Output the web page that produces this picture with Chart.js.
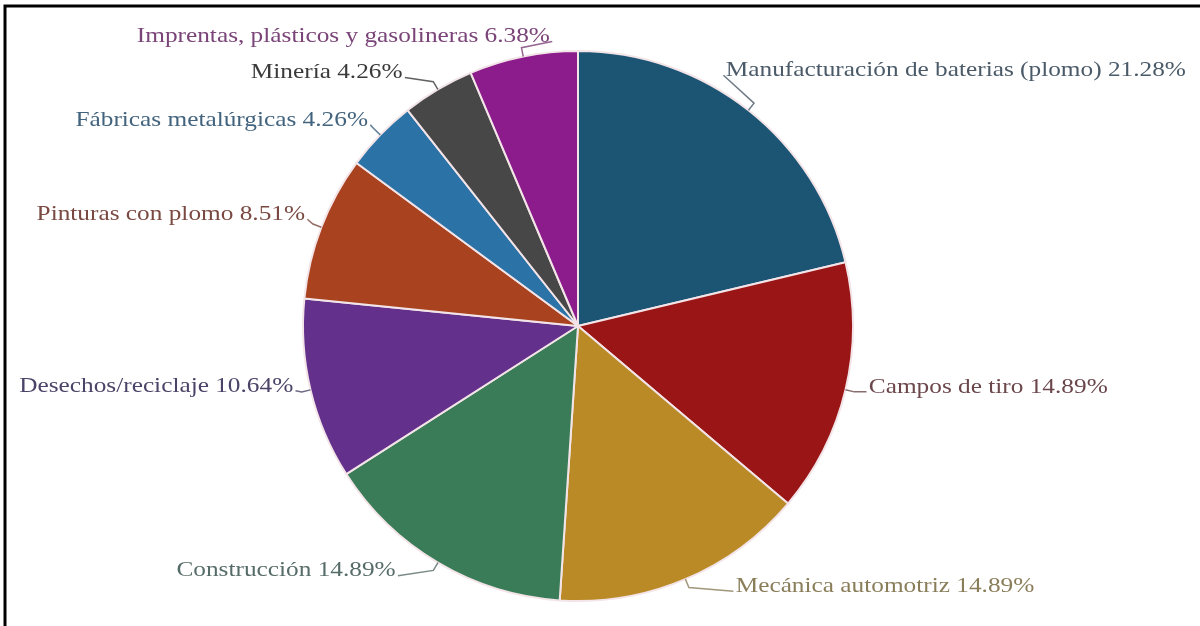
<!DOCTYPE html>
<html>
<head>
<meta charset="utf-8">
<script src="https://cdn.jsdelivr.net/npm/chart.js@4.4.0/dist/chart.umd.min.js"></script>
<style>
  html, body { margin: 0; padding: 0; background: #ffffff; }
  #wrap { position: relative; width: 1200px; height: 626px; }
</style>
</head>
<body>
<div id="wrap"><canvas id="c" width="1200" height="626"></canvas></div>
<script>
// ---- data ----
const categories = [
  'Manufacturación de baterias (plomo)',
  'Campos de tiro',
  'Mecánica automotriz',
  'Construcción',
  'Desechos/reciclaje',
  'Pinturas con plomo',
  'Fábricas metalúrgicas',
  'Minería',
  'Imprentas, plásticos y gasolineras'
];
const percentages = [21.28, 14.89, 14.89, 14.89, 10.64, 8.51, 4.26, 4.26, 6.38];

// ---- styles ----
const sliceColors = ['#1c5474', '#9a1616', '#b98a26', '#3a7c58', '#63308c', '#a8421f', '#2b72a6', '#474747', '#8c1b8c'];
const labelColors = ['#4a5a68', '#6b474c', '#8a7d5a', '#566c68', '#4c4468', '#7a4a42', '#43647e', '#3a3a3a', '#7a4478'];
// label anchor offsets (dx, dy) from the slice's outer mid point, and text side
const labelOffsets = [[-25, -40], [21, -3], [48, 7], [-40, 8], [-15, -4], [-14, -13], [-10, -15], [-33, -17], [29, -20]];
const labelAlign = ['left', 'left', 'left', 'right', 'right', 'right', 'right', 'right', 'right'];

const labelPlugin = {
  id: 'sliceLabels',
  beforeDraw(chart) {
    const ctx = chart.ctx;
    ctx.save();
    ctx.strokeStyle = '#000';
    ctx.lineWidth = 3;
    ctx.beginPath();
    ctx.moveTo(5, 626); ctx.lineTo(5, 6); ctx.lineTo(1200, 6);
    ctx.stroke();
    ctx.restore();
  },
  afterDatasetsDraw(chart) {
    const ctx = chart.ctx;
    const meta = chart.getDatasetMeta(0);
    ctx.save();
    ctx.font = '22px "Liberation Serif", "Times New Roman", serif';
    ctx.textBaseline = 'middle';
    meta.data.forEach((arc, i) => {
      const p = arc.getProps(['x', 'y', 'startAngle', 'endAngle', 'outerRadius'], true);
      const mid = (p.startAngle + p.endAngle) / 2;
      const ex = p.x + Math.cos(mid) * p.outerRadius;
      const ey = p.y + Math.sin(mid) * p.outerRadius;
      const kx = p.x + Math.cos(mid) * (p.outerRadius + 9);
      const ky = p.y + Math.sin(mid) * (p.outerRadius + 9);
      const [dx, dy] = labelOffsets[i];
      const tx = ex + dx, ty = ey + dy;
      const left = labelAlign[i] === 'left';
      ctx.strokeStyle = labelColors[i];
      ctx.globalAlpha = 0.8;
      ctx.lineWidth = 1.5;
      ctx.beginPath();
      ctx.moveTo(ex, ey);
      ctx.lineTo(kx, ky);
      ctx.lineTo(tx, ty + 5);
      ctx.stroke();
      ctx.globalAlpha = 1;
      const text = categories[i] + ' ' + percentages[i].toFixed(2) + '%';
      ctx.fillStyle = labelColors[i];
      ctx.save();
      ctx.translate(tx, ty);
      ctx.scale(1.15, 1);
      ctx.textAlign = labelAlign[i];
      ctx.fillText(text, left ? 2 : -2, 0);
      ctx.restore();
    });
    ctx.restore();
  }
};

new Chart(document.getElementById('c'), {
  type: 'pie',
  data: {
    labels: categories,
    datasets: [{
      data: percentages,
      backgroundColor: sliceColors,
      borderColor: '#f3e4e8',
      borderWidth: 2,
      hoverOffset: 0
    }]
  },
  options: {
    responsive: false,
    animation: false,
    layout: { padding: { top: 50, bottom: 24, left: 302, right: 346 } },
    plugins: {
      legend: { display: false },
      tooltip: { enabled: false }
    }
  },
  plugins: [labelPlugin]
});
</script>
</body>
</html>
